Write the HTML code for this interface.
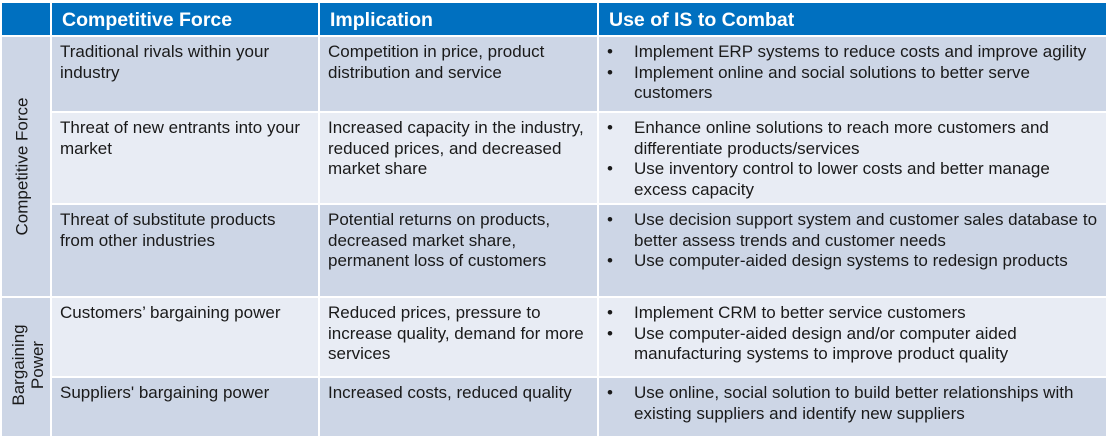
<!DOCTYPE html>
<html><head><style>
body{margin:0;width:1110px;height:441px;background:#fff;position:relative;overflow:hidden;font-family:"Liberation Sans",Arial,sans-serif;color:#1a1a1a}
.c{position:absolute;box-sizing:border-box;font-size:17px;line-height:20.5px;padding:5px 8px}
.h{background:#0070c0;color:#fff;font-weight:bold;font-size:19.5px;line-height:34px;padding:0 10px}
.d{background:#cdd6e6}.l{background:#e8ecf4}
ul{margin:0;padding:0;list-style:none}
li{position:relative;padding-left:27px}
li:before{content:"•";position:absolute;left:0}
.v{position:absolute;transform:rotate(-90deg);transform-origin:center;font-size:17px;line-height:19px;text-align:center;white-space:nowrap}
</style></head><body>
<div class="c h" style="left:2px;top:3px;width:48px;height:32px"></div>
<div class="c h" style="left:52px;top:3px;width:266px;height:32px">Competitive Force</div>
<div class="c h" style="left:320px;top:3px;width:277px;height:32px">Implication</div>
<div class="c h" style="left:599px;top:3px;width:507px;height:32px">Use of IS to Combat</div>

<div class="c d" style="left:2px;top:37px;width:48px;height:259px"></div>
<div class="v" style="left:-98px;top:157px;width:240px">Competitive Force</div>
<div class="c d" style="left:2px;top:298px;width:48px;height:138px"></div>
<div class="v" style="left:-32px;top:346px;width:120px">Bargaining<br>Power</div>

<div class="c d" style="left:52px;top:37px;width:266px;height:74px">Traditional rivals within your industry</div>
<div class="c d" style="left:320px;top:37px;width:277px;height:74px">Competition in price, product distribution and service</div>
<div class="c d" style="left:599px;top:37px;width:507px;height:74px"><ul><li>Implement ERP systems to reduce costs and improve agility</li><li>Implement online and social solutions to better serve customers</li></ul></div>

<div class="c l" style="left:52px;top:113px;width:266px;height:90px">Threat of new entrants into your market</div>
<div class="c l" style="left:320px;top:113px;width:277px;height:90px">Increased capacity in the industry, reduced prices, and decreased market share</div>
<div class="c l" style="left:599px;top:113px;width:507px;height:90px"><ul><li>Enhance online solutions to reach more customers and differentiate products/services</li><li>Use inventory control to lower costs and better manage excess capacity</li></ul></div>

<div class="c d" style="left:52px;top:205px;width:266px;height:91px">Threat of substitute products from other industries</div>
<div class="c d" style="left:320px;top:205px;width:277px;height:91px">Potential returns on products, decreased market share, permanent loss of customers</div>
<div class="c d" style="left:599px;top:205px;width:507px;height:91px"><ul><li>Use decision support system and customer sales database to better assess trends and customer needs</li><li>Use computer-aided design systems to redesign products</li></ul></div>

<div class="c l" style="left:52px;top:298px;width:266px;height:78px">Customers’ bargaining power</div>
<div class="c l" style="left:320px;top:298px;width:277px;height:78px">Reduced prices, pressure to increase quality, demand for more services</div>
<div class="c l" style="left:599px;top:298px;width:507px;height:78px"><ul><li>Implement CRM to better service customers</li><li>Use computer-aided design and/or computer aided manufacturing systems to improve product quality</li></ul></div>

<div class="c d" style="left:52px;top:378px;width:266px;height:58px">Suppliers' bargaining power</div>
<div class="c d" style="left:320px;top:378px;width:277px;height:58px">Increased costs, reduced quality</div>
<div class="c d" style="left:599px;top:378px;width:507px;height:58px"><ul><li>Use online, social solution to build better relationships with existing suppliers and identify new suppliers</li></ul></div>
</body></html>
